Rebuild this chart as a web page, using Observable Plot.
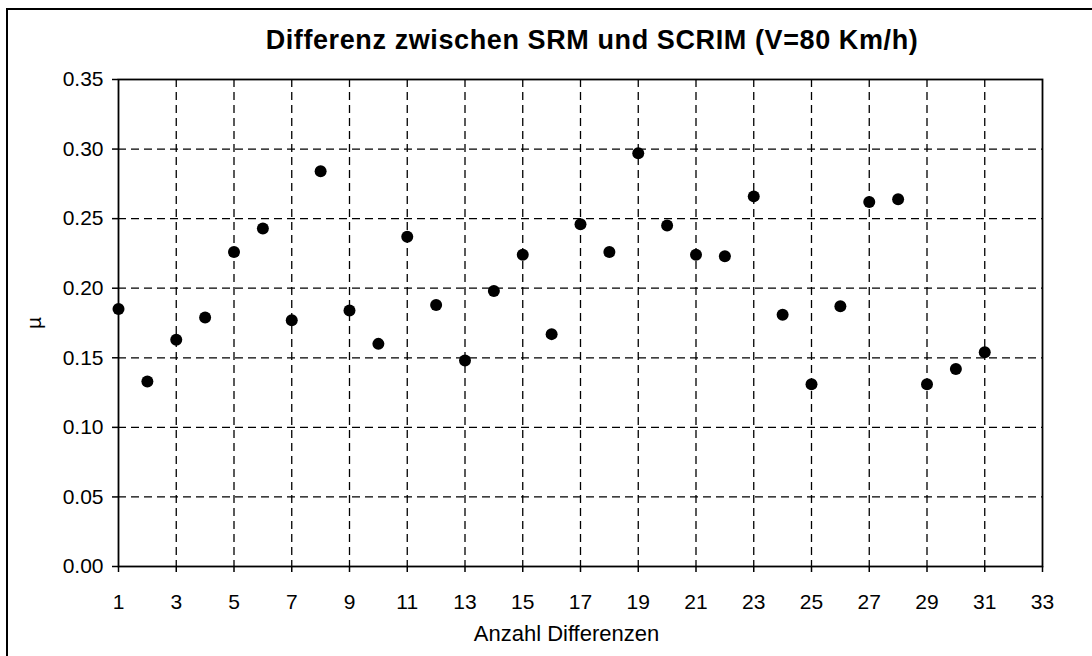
<!DOCTYPE html>
<html>
<head>
<meta charset="utf-8">
<script src="https://cdn.jsdelivr.net/npm/d3@7"></script>
<script src="https://cdn.jsdelivr.net/npm/@observablehq/plot@0.6"></script>
<style>
  html, body { margin: 0; padding: 0; background: #fff; }
  #wrap { position: relative; width: 1092px; height: 656px; overflow: hidden; background: #fff; }
  #border { position: absolute; left: 6px; top: 8px; right: -10px; bottom: -10px; border-left: 2px solid #000; border-top: 2px solid #000; }
  #title { position: absolute; left: 92px; width: 1000px; top: 27px; text-align: center;
           font: bold 27px/27px "Liberation Sans", Arial, sans-serif; letter-spacing: 0.6px; color: #000; }
  #chart { position: absolute; left: 0; top: 0; }
</style>
</head>
<body>
<div id="wrap">
  <div id="border"></div>
  <div id="chart"></div>
  <div id="title">Differenz zwischen SRM und SCRIM (V=80 Km/h)</div>
</div>
<script>
// Data
const indices = [1,2,3,4,5,6,7,8,9,10,11,12,13,14,15,16,17,18,19,20,21,22,23,24,25,26,27,28,29,30,31];
const muValues = [0.185,0.133,0.163,0.179,0.226,0.243,0.177,0.284,0.184,0.160,0.237,0.188,0.148,0.198,0.224,0.167,0.246,0.226,0.297,0.245,0.224,0.223,0.266,0.181,0.131,0.187,0.262,0.264,0.131,0.142,0.154];
const xTicks = [1,3,5,7,9,11,13,15,17,19,21,23,25,27,29,31,33];
const yTicks = [0,0.05,0.10,0.15,0.20,0.25,0.30,0.35];
const xGridLines = [3,5,7,9,11,13,15,17,19,21,23,25,27,29,31];
const yGridLines = [0.05,0.10,0.15,0.20,0.25,0.30];
const xLabel = "Anzahl Differenzen";
const yLabel = "µ";

const data = indices.map((i, k) => ({n: i, mu: muValues[k]}));

const chart = Plot.plot({
  width: 1092,
  height: 656,
  marginLeft: 118,
  marginRight: 50,
  marginTop: 79,
  marginBottom: 90,
  style: {fontFamily: "'Liberation Sans', Arial, sans-serif", fontSize: "21px", color: "#000", background: "transparent", overflow: "visible"},
  x: {domain: [1, 33]},
  y: {domain: [0, 0.35]},
  marks: [
    Plot.gridX(xGridLines, {stroke: "#000", strokeOpacity: 1, strokeWidth: 1.3, strokeDasharray: "8,5"}),
    Plot.gridY(yGridLines, {stroke: "#000", strokeOpacity: 1, strokeWidth: 1.3, strokeDasharray: "8,5"}),
    Plot.frame({stroke: "#000", strokeWidth: 1.8}),
    Plot.axisX(xTicks, {tickSize: 6, tickPadding: 22, fontSize: 21, tickFormat: d => String(d),
      label: null, strokeWidth: 1.5}),
    Plot.axisY(yTicks, {tickSize: 6, tickPadding: 9, fontSize: 21, tickFormat: d3.format(".2f"),
      label: yLabel, labelAnchor: "center", labelOffset: 92, labelArrow: "none", strokeWidth: 1.5}),
    Plot.text([xLabel], {text: d => d, frameAnchor: "bottom", dx: -14, dy: 74, fontSize: 22, lineAnchor: "bottom", fill: "#000"}),
    Plot.dot(data, {x: "n", y: "mu", r: 6, fill: "#000", stroke: "none"})
  ]
});
document.getElementById("chart").appendChild(chart);
</script>
</body>
</html>
